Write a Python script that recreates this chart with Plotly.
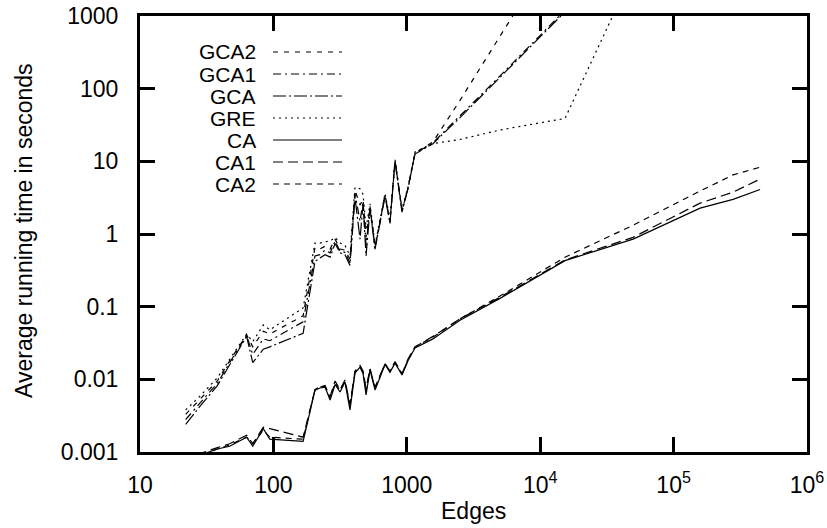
import plotly.graph_objects as go

edges = [22, 28, 38, 47, 63, 70, 84, 94, 167, 205, 223, 244, 266, 290, 316, 344, 375, 409,
         446, 470, 495, 530, 578, 687, 748, 816, 921, 1021, 1152, 1570, 2505, 5000, 15350,
         49700, 158000, 279000, 445000]

gca2 = [0.0033, 0.0052, 0.0095, 0.018, 0.041, 0.028, 0.046, 0.042, 0.075, 0.65, 0.62, 0.68, 0.62,
        0.85, 0.62, 0.6, 0.45, 4.0, 2.5, 3.0, 0.9, 2.4, 0.66, 3.5, 1.5, 10.3, 2.1, 4.3, 13, 18.5,
        69, 528, 14000, None, None, None, None]
gca1 = [0.0028, 0.0046, 0.0088, 0.017, 0.040, 0.022, 0.036, 0.034, 0.062, 0.5, 0.52, 0.6, 0.55,
        0.8, 0.58, 0.56, 0.4, 3.6, 1.5, 2.8, 0.7, 2.3, 0.64, 3.4, 1.45, 10.2, 2.1, 4.3, 12.8, 18,
        42, 150, 1200, 10500, None, None, None]
gca = [0.0024, 0.0042, 0.0082, 0.016, 0.039, 0.017, 0.026, 0.028, 0.043, 0.42, 0.47, 0.52, 0.48,
       0.74, 0.55, 0.52, 0.37, 3.2, 0.85, 2.6, 0.5, 2.2, 0.62, 3.3, 1.4, 10, 2.0, 4.2, 12.6, 17.5,
       40, 145, 1150, 10000, None, None, None]
gre = [0.0038, 0.0058, 0.0105, 0.019, 0.042, 0.033, 0.056, 0.048, 0.096, 0.75, 0.75, 0.78, 0.8,
       0.9, 0.75, 0.7, 0.5, 4.4, 4.2, 3.5, 1.2, 2.6, 0.7, 3.6, 1.6, 10.5, 2.2, 4.4, 13.5, 17.5,
       20, 27, 39, 4000, None, None, None]
ca = [0.0006, 0.0009, 0.0011, 0.0012, 0.0016, 0.0012, 0.0021, 0.0015, 0.0014, 0.0071, 0.0076,
      0.0078, 0.0052, 0.0085, 0.0067, 0.0092, 0.0038, 0.0122, 0.0147, 0.012, 0.0061, 0.0135,
      0.0071, 0.016, 0.0125, 0.0167, 0.0115, 0.018, 0.027, 0.036, 0.065, 0.13, 0.43, 0.85,
      2.27, 3.0, 4.1]
ca1 = [0.00065, 0.00095, 0.00115, 0.0013, 0.0017, 0.0013, 0.0022, 0.0021, 0.0016, 0.0072, 0.0078,
       0.0082, 0.0058, 0.0095, 0.0072, 0.0098, 0.0045, 0.013, 0.0155, 0.013, 0.0075, 0.014,
       0.0078, 0.0165, 0.013, 0.0175, 0.012, 0.019, 0.028, 0.039, 0.068, 0.135, 0.44, 0.9,
       2.66, 3.77, 5.7]
ca2 = [0.0006, 0.0009, 0.0011, 0.00125, 0.0016, 0.0013, 0.002, 0.0016, 0.0015, 0.0072, 0.008,
       0.008, 0.0055, 0.009, 0.007, 0.0095, 0.0042, 0.0128, 0.015, 0.0125, 0.007, 0.0138,
       0.0075, 0.0163, 0.0128, 0.017, 0.0118, 0.0185, 0.028, 0.038, 0.068, 0.14, 0.48, 1.32,
       3.9, 6.5, 8.3]

series_names = ["GCA2", "GCA1", "GCA", "GRE", "CA", "CA1", "CA2"]
series_values = [gca2, gca1, gca, gre, ca, ca1, ca2]
series_dash = ["5px,6px", "8px,4px,2px,4px", "13px,3px,2px,3px", "2px,4px",
               "solid", "10px,5px", "6px,5px"]

x_tickvals = [10, 100, 1000, 1e4, 1e5, 1e6]
x_ticktext = ["10", "100", "1000", "10<sup>4</sup>", "10<sup>5</sup>", "10<sup>6</sup>"]
y_tickvals = [0.001, 0.01, 0.1, 1, 10, 100, 1000]
y_ticktext = ["0.001", "0.01", "0.1", "1", "10", "100", "1000"]

FONT = "Liberation Sans"
FS = 23
fig = go.Figure()
for name, vals, dash in zip(series_names, series_values, series_dash):
    fig.add_trace(go.Scatter(x=edges, y=vals, mode="lines", name=name, showlegend=False,
                             line=dict(color="black", width=1.2, dash=dash),
                             connectgaps=False))

# custom gnuplot-style key: label right-aligned, sample line to the right
W, H = 827, 528
L, R, T, B = 140, 20, 16, 76
pw, ph = W - L - R, H - T - B
def px(xp):
    return (xp - L) / pw
def py(yp):
    return (H - B - yp) / ph

shapes = []
annotations = []
for i, (name, dash) in enumerate(zip(series_names, series_dash)):
    yy = 52 + i * 22
    annotations.append(dict(x=px(258), y=py(yy), xref="paper", yref="paper", text=name,
                            showarrow=False, xanchor="right", yanchor="middle",
                            font=dict(family=FONT, size=21, color="black")))
    shapes.append(dict(type="line", xref="paper", yref="paper", x0=px(273), x1=px(342),
                       y0=py(yy), y1=py(yy), line=dict(color="black", width=1.2, dash=dash)))

annotations.append(dict(x=px(24), y=py(231), xref="paper", yref="paper",
                        text="Average running time in seconds", textangle=-90, showarrow=False,
                        xanchor="center", yanchor="middle",
                        font=dict(family=FONT, size=FS, color="black")))
annotations.append(dict(x=px(473), y=py(511), xref="paper", yref="paper", text="Edges",
                        showarrow=False, xanchor="center", yanchor="middle",
                        font=dict(family=FONT, size=FS, color="black")))

axis_common = dict(showgrid=False, zeroline=False, showline=True, linecolor="black",
                   linewidth=3, mirror="allticks", ticks="inside", ticklen=15, tickwidth=3,
                   tickcolor="black", automargin=False,
                   tickfont=dict(family=FONT, size=FS, color="black"))

fig.update_layout(
    width=W, height=H, margin=dict(l=L, r=R, t=T, b=B, autoexpand=False),
    paper_bgcolor="white", plot_bgcolor="white",
    xaxis=dict(type="log", range=[1, 6], tickvals=x_tickvals, ticktext=x_ticktext,
               ticklabelstandoff=10, **axis_common),
    yaxis=dict(type="log", range=[-3, 3], tickvals=y_tickvals, ticktext=y_ticktext,
               ticklabelstandoff=14, **axis_common),
    shapes=shapes, annotations=annotations,
)
fig.write_html("out.html", config={"displayModeBar": False},
               post_script="document.body.style.margin='0';document.body.style.padding='0';")
